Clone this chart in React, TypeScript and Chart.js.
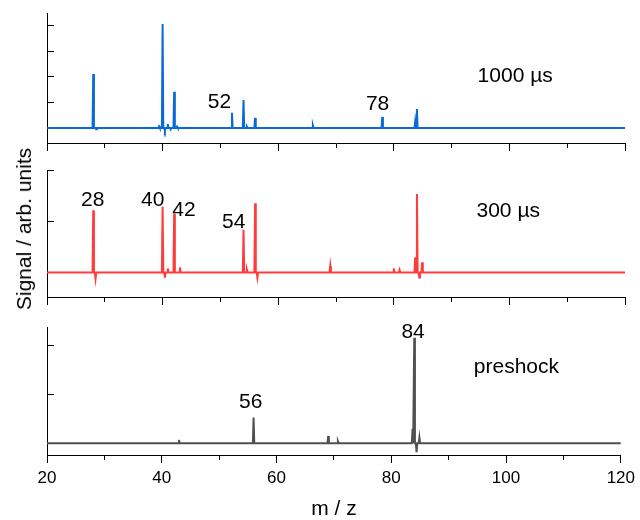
import React, { useEffect, useRef } from "react";
import { Chart, registerables } from "chart.js";

Chart.register(...registerables);

// ---------- data ----------
const xMin = 20;
const xMax = 120;
const xStep = 10;
const xTickLabels = [20, 40, 60, 80, 100, 120];

// 1000 µs spectrum (blue): peak m/z and heights (arb. units)
const mz1000 = [28, 28.5, 39.4, 40, 40.4, 40.9, 41.4, 42, 42.5, 52, 54, 54.6, 56, 66, 78, 83.7, 84];
const sig1000 = [2.11, -0.05, 0.06, 4.06, -0.1, 0.15, -0.06, 1.41, 0.05, 0.59, 1.09, 0.05, 0.39, 0.1, 0.43, 0.25, 0.74];
const yTicks1000 = [0, 1, 2, 3, 4];

// 300 µs spectrum (red)
const mz300 = [28, 28.4, 40, 40.4, 40.9, 42, 43, 54, 54.6, 56, 56.4, 69, 80, 81, 83.7, 84, 84.4, 84.9];
const sig300 = [1.22, -0.12, 1.29, -0.1, 0.08, 1.15, 0.1, 0.84, 0.05, 1.36, -0.1, 0.13, 0.08, 0.05, 0.3, 1.54, -0.1, 0.2];
const yTicks300 = [0, 1, 2];

// preshock spectrum (grey)
const mzPre = [43, 56, 69, 70.7, 83.7, 84, 84.4, 84.9];
const sigPre = [0.07, 0.53, 0.15, 0.04, 0.3, 2.17, -0.18, 0.12];
const yTicksPre = [0, 1, 2];

// annotation texts with data-space anchors
const labels1000 = [
  { text: "1000 µs", x: 101, y: 2.03 },
  { text: "52", x: 49.85, y: 1.0 },
  { text: "78", x: 77.2, y: 0.94 },
];
const labels300 = [
  { text: "300 µs", x: 99.8, y: 1.21 },
  { text: "28", x: 27.9, y: 1.42 },
  { text: "40", x: 38.3, y: 1.42 },
  { text: "42", x: 43.7, y: 1.23 },
  { text: "54", x: 52.3, y: 0.99 },
];
const labelsPre = [
  { text: "preshock", x: 101.8, y: 1.57 },
  { text: "84", x: 83.8, y: 2.29 },
  { text: "56", x: 55.5, y: 0.85 },
];

// ---------- helpers ----------
const FONT = "'Liberation Sans', Arial, Helvetica, sans-serif";
const HALF_W = 0.12;

function buildSpectrum(mz: number[], sig: number[]) {
  const pts: { x: number; y: number }[] = [{ x: xMin, y: 0 }];
  mz.forEach((m, i) => {
    pts.push({ x: m - HALF_W, y: 0 });
    pts.push({ x: m, y: sig[i] });
    pts.push({ x: m + HALF_W, y: 0 });
  });
  pts.push({ x: xMax, y: 0 });
  return pts;
}

const textPlugin = {
  id: "peakText",
  afterDatasetsDraw(chart: any) {
    const items = chart.options.plugins.peakText?.items || [];
    const { ctx, scales } = chart;
    ctx.save();
    ctx.fillStyle = "#000";
    ctx.font = `21px ${FONT}`;
    ctx.textAlign = "center";
    ctx.textBaseline = "middle";
    items.forEach((it: any) => {
      ctx.fillText(it.text, scales.x.getPixelForValue(it.x), scales.y.getPixelForValue(it.y));
    });
    ctx.restore();
  },
};

type PanelProps = {
  mz: number[];
  sig: number[];
  yTicks: number[];
  yMin: number;
  yMax: number;
  color: string;
  items: { text: string; x: number; y: number }[];
  top: number;
  bottom: number;
  last: boolean;
};

function Panel(p: PanelProps) {
  const ref = useRef<HTMLCanvasElement>(null);
  useEffect(() => {
    if (!ref.current) return;
    Chart.defaults.font.family = FONT;
    Chart.defaults.color = "#000";
    const axisH = p.last ? 520 - p.bottom : 10;
    const chart = new Chart(ref.current, {
      type: "line",
      data: {
        datasets: [
          {
            data: buildSpectrum(p.mz, p.sig),
            borderColor: p.color,
            borderWidth: 2,
            pointRadius: 0,
            tension: 0,
            fill: false,
          },
        ],
      },
      plugins: [textPlugin],
      options: {
        animation: false,
        responsive: false,
        events: [],
        layout: {
          padding: {
            left: 0,
            right: 15,
            top: p.top,
            bottom: p.last ? 0 : 520 - p.bottom - axisH,
          },
        },
        plugins: {
          legend: { display: false },
          tooltip: { enabled: false },
          peakText: { items: p.items },
        } as any,
        scales: {
          x: {
            type: "linear",
            min: xMin,
            max: xMax,
            afterFit: (s: any) => {
              s.height = axisH;
            },
            ticks: {
              stepSize: xStep,
              display: p.last,
              autoSkip: false,
              maxRotation: 0,
              padding: 5,
              font: { size: 17 },
              color: "#000",
              callback: (v: any) => (xTickLabels.includes(Number(v)) ? String(v) : ""),
            },
            grid: {
              drawOnChartArea: false,
              drawTicks: true,
              tickLength: 8,
              tickColor: "#000",
              tickWidth: 1,
              tickBorderDash: (ctx: any) =>
                ctx.tick && xTickLabels.includes(ctx.tick.value) ? [] : [4, 100],
            } as any,
            border: { display: true, color: "#000", width: 1 },
            title: {
              display: p.last,
              text: "m / z",
              font: { size: 21, lineHeight: 1 },
              color: "#000",
              padding: { top: 0, bottom: 0 },
            },
          },
          y: {
            type: "linear",
            min: p.yMin,
            max: p.yMax,
            afterBuildTicks: (s: any) => {
              s.ticks = p.yTicks.map((v) => ({ value: v }));
            },
            afterFit: (s: any) => {
              s.width = 47;
            },
            ticks: { display: false },
            grid: {
              drawOnChartArea: true,
              drawTicks: false,
              color: "#000",
              lineWidth: 1,
            },
            border: { display: true, color: "#000", width: 1, dash: [6, 2000] },
          },
        },
      } as any,
    });
    return () => chart.destroy();
  }, []);
  return (
    <canvas
      ref={ref}
      width={640}
      height={520}
      style={{ position: "absolute", left: 0, top: 0, width: 640, height: 520 }}
    />
  );
}

export default function App() {
  return (
    <div
      style={{
        position: "absolute",
        left: 0,
        top: 0,
        width: 640,
        height: 520,
        background: "#fff",
        overflow: "hidden",
      }}
    >
      <Panel mz={mz1000} sig={sig1000} yTicks={yTicks1000} yMin={-0.59} yMax={4.49} color="#0b6bd6" items={labels1000} top={13} bottom={143} last={false} />
      <Panel mz={mz300} sig={sig300} yTicks={yTicks300} yMin={-0.48} yMax={2.01} color="#ff3b3b" items={labels300} top={170} bottom={297} last={false} />
      <Panel mz={mzPre} sig={sigPre} yTicks={yTicksPre} yMin={-0.24} yMax={2.39} color="#505050" items={labelsPre} top={327} bottom={455} last={true} />
      <div
        style={{
          position: "absolute",
          left: 24,
          top: 229,
          transform: "translate(-50%, -50%) rotate(-90deg)",
          whiteSpace: "nowrap",
          font: `21px ${FONT}`,
          color: "#000",
        }}
      >
        Signal / arb. units
      </div>
    </div>
  );
}
